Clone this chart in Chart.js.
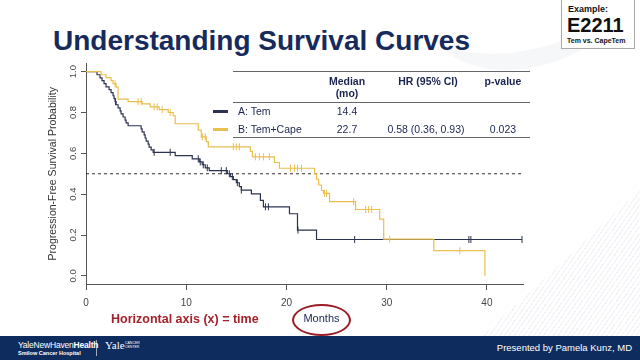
<!DOCTYPE html>
<html>
<head>
<meta charset="utf-8">
<script src="https://cdn.jsdelivr.net/npm/chart.js@4.4.0/dist/chart.umd.min.js"></script>
<style>
html, body { margin: 0; padding: 0; }
body { width: 640px; height: 360px; position: relative; overflow: hidden; background: #fff; font-family: "Liberation Sans", Arial, sans-serif; }
#grafico { position: absolute; left: 0; top: 0; }
.fundo-br { position: absolute; left: 430px; top: 190px; width: 210px; height: 146px;
  background: repeating-linear-gradient(125deg, rgba(190,196,210,0.22) 0 1px, transparent 1px 4px);
  clip-path: polygon(100% 0, 100% 100%, 25% 100%); }
.fundo-tr { position: absolute; left: 430px; top: -50px; width: 190px; height: 100px; border-radius: 50%;
  border-bottom: 18px solid rgba(228,231,238,0.35); transform: rotate(-12deg); }
#titulo { position: absolute; left: 53px; top: 27px; font-size: 28px; line-height: 28px; font-weight: bold; color: #172a5c; white-space: nowrap; }
#exemplo { position: absolute; left: 561px; top: -1px; width: 72px; height: 48px; border: 1px solid #aaa; background: #fff; color: #111; font-weight: bold; }
#exemplo .a { position: absolute; left: 6px; top: 4px; font-size: 9px; }
#exemplo .b { position: absolute; left: 5px; top: 15px; font-size: 20px; line-height: 20px; }
#exemplo .c { position: absolute; left: 5px; top: 37px; font-size: 7px; white-space: nowrap; }
.regra { position: absolute; left: 233px; width: 297px; height: 1px; background: #666; }
.txt { position: absolute; font-size: 10.5px; line-height: 12px; color: #1b2550; white-space: nowrap; }
.cab { font-weight: bold; text-align: center; }
.cen { text-align: center; }
.amostra { position: absolute; left: 213px; width: 15px; height: 2.5px; }
#eixoX { position: absolute; left: 111px; top: 312px; font-size: 12.5px; font-weight: bold; color: #a3222b; white-space: nowrap; }
#oval { position: absolute; left: 292px; top: 304px; width: 55px; height: 28px; border: 2px solid #9b1c23; border-radius: 50%; }
#meses { position: absolute; left: 292px; top: 312px; width: 59px; text-align: center; font-size: 11px; color: #1b2550; }
#rodape { position: absolute; left: 0; top: 336px; width: 640px; height: 24px; background: #0f2c5e; color: #fff; }
#rodape .l1 { position: absolute; left: 18px; top: 4px; font-size: 8.5px; letter-spacing: -0.2px; }
#rodape .l2 { position: absolute; left: 18px; top: 14px; font-size: 5.5px; font-weight: bold; }
#rodape .sep { position: absolute; left: 96px; top: 4px; width: 1px; height: 16px; background: rgba(255,255,255,0.6); }
#rodape .yale { position: absolute; left: 105px; top: 3px; font-size: 11px; font-family: "Liberation Serif", serif; }
#rodape .cc { position: absolute; left: 125px; top: 5px; font-size: 3.5px; line-height: 4px; }
#rodape .dir { position: absolute; right: 8px; top: 6px; font-size: 9.5px; }
</style>
</head>
<body>
<div class="fundo-tr"></div>
<div class="fundo-br"></div>
<div id="titulo">Understanding Survival Curves</div>
<div id="exemplo"><div class="a">Example:</div><div class="b">E2211</div><div class="c">Tem vs. CapeTem</div></div>

<canvas id="grafico" width="640" height="360"></canvas>

<div class="regra" style="top:71px"></div>
<div class="regra" style="top:102px"></div>
<div class="regra" style="top:137px"></div>
<div class="txt cab" style="left:317px;top:75px;width:60px">Median</div>
<div class="txt cab" style="left:317px;top:87px;width:60px">(mo)</div>
<div class="txt cab" style="left:388px;top:75px;width:80px">HR (95% CI)</div>
<div class="txt cab" style="left:473px;top:75px;width:60px">p-value</div>
<div class="amostra" style="top:110px;background:#2d3250"></div>
<div class="amostra" style="top:128px;background:#eabf4f"></div>
<div class="txt" style="left:238px;top:105px">A: Tem</div>
<div class="txt cen" style="left:317px;top:105px;width:60px">14.4</div>
<div class="txt" style="left:238px;top:123px">B: Tem+Cape</div>
<div class="txt cen" style="left:317px;top:123px;width:60px">22.7</div>
<div class="txt cen" style="left:376px;top:123px;width:100px">0.58 (0.36, 0.93)</div>
<div class="txt cen" style="left:473px;top:123px;width:60px">0.023</div>

<div id="eixoX">Horizontal axis (x) = time</div>
<div id="oval"></div>
<div id="meses">Months</div>

<div id="rodape">
  <div class="l1">YaleNewHaven<b>Health</b></div>
  <div class="l2">Smilow Cancer Hospital</div>
  <div class="sep"></div>
  <div class="yale">Yale</div>
  <div class="cc">CANCER<br>CENTER</div>
  <div class="dir">Presented by Pamela Kunz, MD</div>
</div>

<script>
// braco A: Tem (tempo em meses, sobrevida livre de progressao)
const tempoA = [0, 1.1, 1.4, 1.6, 1.8, 2.0, 2.3, 2.5, 2.7, 2.8, 2.9, 3.0, 3.2, 3.4, 3.5, 3.7, 3.9, 4.0, 4.2,
  5.5, 5.6, 5.8, 5.9, 6.0, 6.2, 6.3, 6.5, 6.7, 8.9, 10.6, 11.3, 11.6, 11.9, 12.3, 14.1, 14.4, 14.7, 15.0,
  15.3, 15.5, 16.5, 17.4, 17.7, 20.3, 21.1, 23.0, 43.5];
const sobrevA = [1.0, 0.985, 0.970, 0.956, 0.941, 0.926, 0.912, 0.897, 0.882, 0.868, 0.853, 0.838, 0.823, 0.808, 0.793, 0.778, 0.763, 0.749, 0.735,
  0.720, 0.705, 0.690, 0.675, 0.660, 0.645, 0.630, 0.617, 0.605, 0.589, 0.573, 0.558, 0.544, 0.529, 0.515, 0.500, 0.486, 0.471, 0.456,
  0.437, 0.420, 0.401, 0.370, 0.338, 0.304, 0.224, 0.178, 0.178];
const censuraA = [2.95, 6.8, 8.4, 11.2, 11.4, 11.7, 12.1, 13.5, 14.0, 14.3, 14.6, 15.1, 15.5, 17.9, 18.2, 21.15, 26.8, 38.2, 38.4, 43.5];

// braco B: Tem+Cape
const tempoB = [0, 1.5, 2.0, 2.5, 2.7, 3.0, 3.2, 4.2, 5.6, 6.4, 7.3, 8.2, 8.7, 8.9, 11.2, 11.5, 12.0, 12.2,
  16.4, 16.6, 18.8, 19.3, 22.8, 23.0, 23.2, 23.5, 23.7, 24.3, 26.9, 29.3, 29.7, 34.7, 39.8];
const sobrevB = [1.0, 0.985, 0.971, 0.956, 0.941, 0.924, 0.866, 0.853, 0.842, 0.828, 0.814, 0.800, 0.784, 0.745, 0.714, 0.681, 0.657, 0.632,
  0.610, 0.583, 0.555, 0.527, 0.500, 0.473, 0.445, 0.418, 0.404, 0.363, 0.325, 0.278, 0.180, 0.123, 0.0];
const censuraB = [2.9, 5.2, 5.5, 6.8, 7.1, 7.6, 8.4, 11.6, 11.9, 14.7, 15.0, 15.3, 16.9, 17.3, 17.7, 18.3,
  20.4, 20.8, 21.1, 21.5, 23.8, 24.0, 26.7, 27.9, 28.2, 28.5, 30.3, 37.3];

const ticksX = [0, 10, 20, 30, 40];
const ticksY = [0.0, 0.2, 0.4, 0.6, 0.8, 1.0];
const nivelMediana = 0.5;
const tempoMax = 43.6;

const corA = '#2d3250';
const corB = '#eabf4f';

function nivel(tempos, sobrev, t) {
  let s = sobrev[0];
  for (let i = 0; i < tempos.length; i++) {
    if (tempos[i] <= t) s = sobrev[i];
  }
  return s;
}

const curvaA = tempoA.map((t, i) => ({ x: t, y: sobrevA[i] }));
const curvaB = tempoB.map((t, i) => ({ x: t, y: sobrevB[i] }));
const marcasA = censuraA.map(t => ({ x: t, y: nivel(tempoA, sobrevA, t) }));
const marcasB = censuraB.map(t => ({ x: t, y: nivel(tempoB, sobrevB, t) }));

// rotulos do eixo y girados, como no R
const rotulosY = {
  id: 'rotulosY',
  afterDraw(chart) {
    const ctx = chart.ctx;
    const y = chart.scales.y;
    ctx.save();
    ctx.fillStyle = '#444';
    ctx.font = '9.5px "Liberation Sans", Arial, sans-serif';
    ctx.textAlign = 'center';
    ctx.textBaseline = 'middle';
    ticksY.forEach(v => {
      ctx.save();
      ctx.translate(73, y.getPixelForValue(v));
      ctx.rotate(-Math.PI / 2);
      ctx.fillText(v.toFixed(1), 0, 0);
      ctx.restore();
    });
    ctx.fillStyle = '#333';
    ctx.font = '10.5px "Liberation Sans", Arial, sans-serif';
    ctx.translate(53, y.getPixelForValue(0.5));
    ctx.rotate(-Math.PI / 2);
    ctx.fillText('Progression-Free Survival Probability', 0, 0);
    ctx.restore();
  }
};

window.chart = new Chart(document.getElementById('grafico').getContext('2d'), {
  type: 'line',
  data: {
    datasets: [
      {
        data: marcasB, showLine: false, order: 1,
        pointStyle: 'line', rotation: 90, pointRadius: 3.5, borderColor: corB, borderWidth: 1
      },
      {
        data: curvaB, stepped: true, order: 2,
        borderColor: corB, borderWidth: 1.2, pointRadius: 0, fill: false
      },
      {
        data: marcasA, showLine: false, order: 3,
        pointStyle: 'line', rotation: 90, pointRadius: 3.5, borderColor: corA, borderWidth: 1
      },
      {
        data: curvaA, stepped: true, order: 4,
        borderColor: corA, borderWidth: 1.2, pointRadius: 0, fill: false
      },
      {
        data: [{ x: 0, y: nivelMediana }, { x: tempoMax, y: nivelMediana }], order: 5,
        borderColor: '#333', borderWidth: 1, borderDash: [3, 3], pointRadius: 0
      }
    ]
  },
  options: {
    responsive: false,
    animation: false,
    devicePixelRatio: 1,
    layout: { padding: { left: 0, top: 63.5, right: 117, bottom: 0 } },
    plugins: { legend: { display: false }, tooltip: { enabled: false } },
    scales: {
      x: {
        type: 'linear', min: 0, max: tempoMax,
        afterBuildTicks: s => { s.ticks = ticksX.map(v => ({ value: v })); },
        afterFit: s => { s.height = 76; },
        ticks: { color: '#444', font: { size: 10, family: '"Liberation Sans", Arial' }, padding: 7, maxRotation: 0, autoSkip: false },
        grid: { drawOnChartArea: false, drawTicks: true, tickLength: 6, color: '#555' },
        border: { display: true, color: '#555', width: 1 }
      },
      y: {
        type: 'linear', min: -0.04, max: 1.04,
        afterBuildTicks: s => { s.ticks = ticksY.map(v => ({ value: v })); },
        afterFit: s => { s.width = 86; },
        ticks: { color: 'rgba(0,0,0,0)', font: { size: 9 } },
        grid: { drawOnChartArea: false, drawTicks: true, tickLength: 5, color: '#555' },
        border: { display: true, color: '#555', width: 1 }
      }
    }
  },
  plugins: [rotulosY]
});
</script>
</body>
</html>
